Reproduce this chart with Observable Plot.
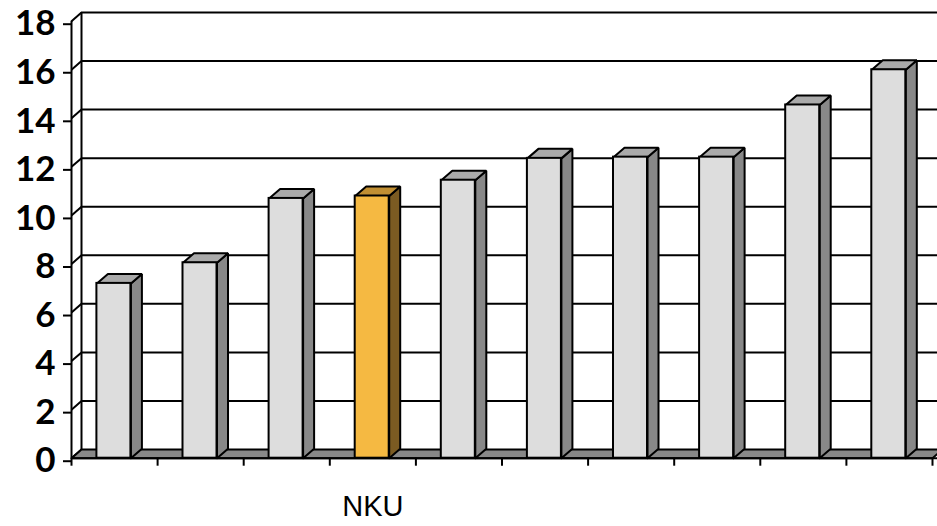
<!DOCTYPE html>
<html>
<head>
<meta charset="utf-8">
<script src="https://cdn.jsdelivr.net/npm/d3@7"></script>
<script src="https://cdn.jsdelivr.net/npm/@observablehq/plot@0.6"></script>
<style>
  html, body { margin: 0; padding: 0; background: white; overflow: hidden; }
</style>
</head>
<body>
<div id="chart"></div>
<script>
// ---- data ----
const categories = ["", "", "", "NKU", "", "", "", "", "", ""];
const values = [7.2, 8.05, 10.7, 10.8, 11.45, 12.35, 12.4, 12.4, 14.55, 16.0];
const highlight = "NKU";
const yTicks = [0, 2, 4, 6, 8, 10, 12, 14, 16, 18];

// ---- styling / 3D depth (in scale units) ----
const W = 937, H = 526;
const mL = 71, mR = 5, mT = 20.7, mB = 68.3;
const pxX = (W - mL - mR) / categories.length; // px per category
const pxY = (H - mT - mB) / 18;                // px per y unit
const wallDx = 10 / pxX, wallDy = 8.7 / pxY;
const barDx = 11 / pxX, barDy = 9.5 / pxY;
const barL = 0.295, barR = 0.69;

const colors = {
  normal: {front: "#DDDDDD", side: "#888888", top: "#AAAAAA"},
  hi: {front: "#F5B942", side: "#7B5B22", top: "#C18F33"}
};

const bars = categories.map((c, i) => ({i, cat: c, v: values[i], hi: c === highlight}));

// polygons for side and top faces
const polys = [];
bars.forEach(b => {
  const x0 = b.i + barL, x1 = b.i + barR, v = b.v;
  const col = b.hi ? colors.hi : colors.normal;
  const side = [[x1, 0], [x1 + barDx, barDy], [x1 + barDx, v + barDy], [x1, v], [x1, 0]];
  const top = [[x0, v], [x1, v], [x1 + barDx, v + barDy], [x0 + barDx, v + barDy], [x0, v]];
  side.forEach(([x, y]) => polys.push({id: "s" + b.i, x, y, fill: col.side}));
  top.forEach(([x, y]) => polys.push({id: "t" + b.i, x, y, fill: col.top}));
});

const n = categories.length;
const floor = [[0, 0], [n, 0], [n + wallDx, wallDy], [wallDx, wallDy], [0, 0]].map(([x, y]) => ({x, y}));

const plot = Plot.plot({
  width: W,
  height: H,
  marginLeft: mL,
  marginRight: mR,
  marginTop: mT,
  marginBottom: mB,
  x: {domain: [0, n], axis: null},
  y: {domain: [0, 18], axis: null},
  color: {type: "identity"},
  style: {fontFamily: "Lato", background: "white", overflow: "hidden"},
  marks: [
    // back wall gridlines
    Plot.ruleY(yTicks.slice(1), {y: d => d + wallDy, x1: wallDx, x2: n + 1, stroke: "#000", strokeWidth: 2}),
    // left wall: back edge, front edge, connectors
    Plot.ruleX([wallDx], {y1: wallDy, y2: 18 + wallDy, stroke: "#000", strokeWidth: 2}),
    Plot.link(yTicks, {x1: 0, y1: d => d, x2: wallDx, y2: d => d + wallDy, stroke: "#000", strokeWidth: 2}),
    // floor
    Plot.line(floor, {x: "x", y: "y", fill: "#888888", stroke: "#000", strokeWidth: 2, strokeLinejoin: "miter"}),
    Plot.ruleX([0], {y1: 0, y2: 18, stroke: "#000", strokeWidth: 2}),
    // bars: side and top faces
    Plot.line(polys, {x: "x", y: "y", z: "id", fill: "fill", stroke: "#000", strokeWidth: 2, strokeLinejoin: "miter"}),
    // bars: front faces
    Plot.rect(bars, {
      x1: d => d.i + barL, x2: d => d.i + barR, y1: 0, y2: "v",
      fill: d => d.hi ? colors.hi.front : colors.normal.front,
      stroke: "#000", strokeWidth: 2
    }),
    // axes
    Plot.axisX(d3.range(0, n + 1), {tickSize: 8, tickFormat: () => "", label: null, strokeWidth: 2, stroke: "#000"}),
    Plot.axisY(yTicks, {
      tickSize: 8, tickPadding: 8, strokeWidth: 2, stroke: "#000", label: null,
      fontSize: 35, fontWeight: "bold", fontFamily: "Lato", fill: "#000", dy: 3
    }),
    Plot.ruleY([0], {x1: 0, x2: n + 1, stroke: "#000", strokeWidth: 2}),
    // category labels
    Plot.text(bars, {
      x: d => d.i + 0.5, y: 0, text: "cat", dy: 49,
      fontSize: 29, fontFamily: "Liberation Sans", fill: "#000"
    })
  ]
});
document.getElementById("chart").appendChild(plot);
</script>
</body>
</html>
